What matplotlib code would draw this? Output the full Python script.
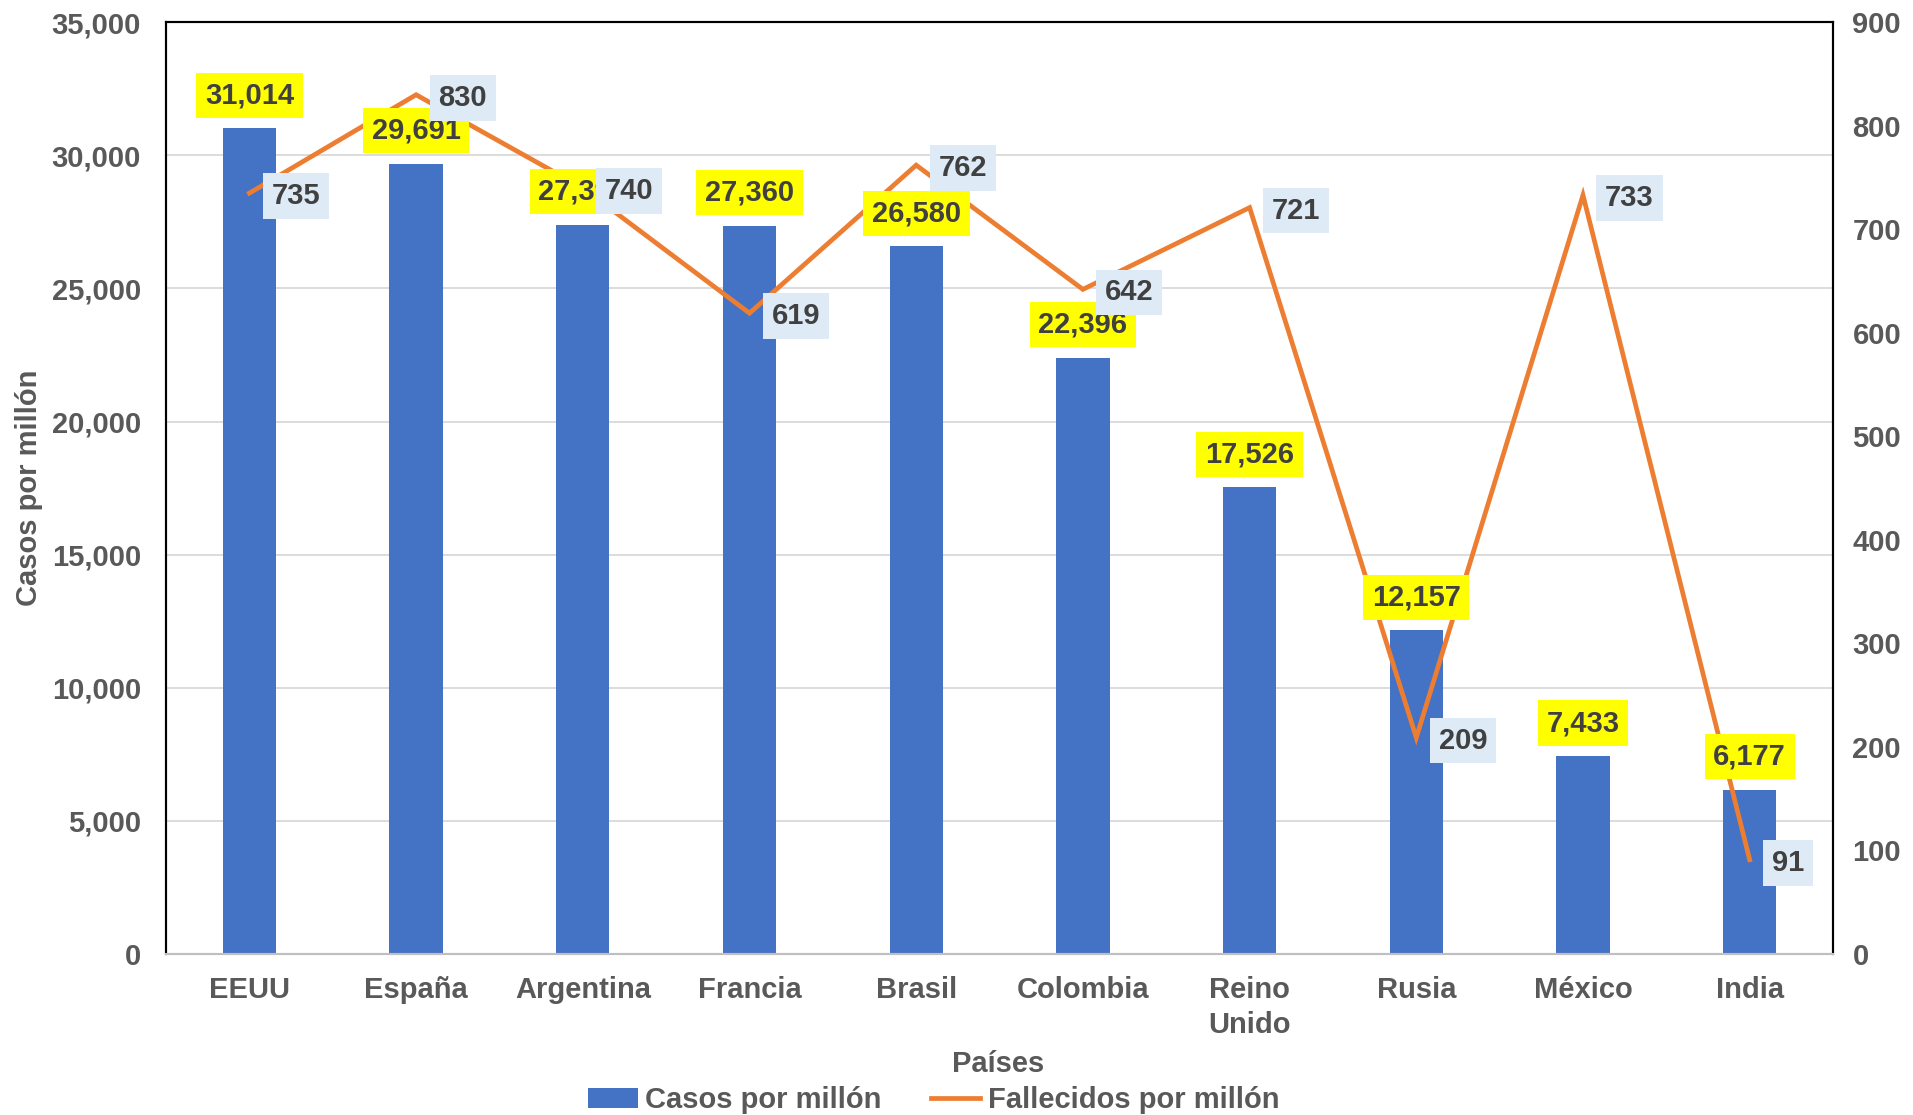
import matplotlib.pyplot as plt
import numpy as np

# Datos
paises = ["EEUU", "España", "Argentina", "Francia", "Brasil", "Colombia",
          "Reino\nUnido", "Rusia", "México", "India"]
casos_por_millon = [31014, 29691, 27393, 27360, 26580, 22396, 17526, 12157, 7433, 6177]
fallecidos_por_millon = [735, 830, 740, 619, 762, 642, 721, 209, 733, 91]

azul = "#4472C4"
naranja = "#ED7D31"
gris_texto = "#595959"
texto_label = "#404040"
fs = 21

plt.rcParams["font.family"] = ["Liberation Sans", "DejaVu Sans"]
plt.rcParams["font.weight"] = "bold"

fig = plt.figure(figsize=(19.13, 11.15), dpi=100)
ax = fig.add_axes([0.0868, 0.1444, 0.8714, 0.8356])
ax2 = ax.twinx()

x = np.arange(len(paises))
ax.bar(x, casos_por_millon, width=0.32, color=azul, zorder=2, label="Casos por millón")
ax2.plot(x, fallecidos_por_millon, color=naranja, lw=3.4, zorder=3,
         solid_joinstyle="miter", label="Fallecidos por millón")

ax.set_xlim(-0.5, len(paises) - 0.5)
ax.set_ylim(0, 35000)
ax2.set_ylim(0, 900)
ax.set_yticks(np.arange(0, 35001, 5000))
ax2.set_yticks(np.arange(0, 901, 100))
ax.yaxis.set_major_formatter(plt.FuncFormatter(lambda v, p: f"{v:,.0f}"))

ax.grid(axis="y", color="#D9D9D9", lw=1.3, zorder=0)
ax.set_axisbelow(True)

ax.set_xticks(x)
ax.set_xticklabels(paises, fontsize=fs, color=gris_texto, fontweight="bold", linespacing=1.3)
ax.tick_params(axis="x", length=0, pad=16)
ax.tick_params(axis="y", length=0, pad=18, labelsize=fs, labelcolor=gris_texto)
ax2.tick_params(axis="y", length=0, pad=14, labelsize=fs, labelcolor=gris_texto)
for t in ax.get_yticklabels() + ax2.get_yticklabels():
    t.set_fontweight("bold")

for a in (ax, ax2):
    a.spines["top"].set_color("black")
    a.spines["left"].set_color("black")
    a.spines["right"].set_color("black")
    a.spines["bottom"].set_color("#BFBFBF")
    for s in a.spines.values():
        s.set_linewidth(1.5)

ax.set_ylabel("Casos por millón", fontsize=fs, color=gris_texto, fontweight="bold", labelpad=6)
fig.text(0.522, 0.046, "Países", ha="center", va="center", fontsize=fs,
         color=gris_texto, fontweight="bold")

# Etiquetas de las barras (amarillas) y de la linea (celestes), encima de la linea
for xi, v in zip(x, casos_por_millon):
    ax2.annotate(f"{v:,}", xy=(xi, v), xycoords=ax.transData, xytext=(0, 26),
                 textcoords="offset points", ha="center", va="center_baseline",
                 fontsize=fs, fontweight="bold", color=texto_label, zorder=5,
                 bbox=dict(boxstyle="square,pad=0.3", fc="#FFFF00", ec="none"))
for xi, v in zip(x, fallecidos_por_millon):
    ax2.annotate(f"{v}", xy=(xi, v), xytext=(16, 0), textcoords="offset points",
                 ha="left", va="center_baseline", fontsize=fs, fontweight="bold",
                 color=texto_label, zorder=6,
                 bbox=dict(boxstyle="square,pad=0.3", fc="#DEEBF7", ec="none"))

h1, l1 = ax.get_legend_handles_labels()
h2, l2 = ax2.get_legend_handles_labels()
leg = fig.legend(h1 + h2, l1 + l2, loc="center", bbox_to_anchor=(0.488, 0.0135),
                 ncol=2, frameon=False, fontsize=fs, handlelength=1.7,
                 handletextpad=0.25, columnspacing=1.7)
for t in leg.get_texts():
    t.set_color(gris_texto)
    t.set_fontweight("bold")

fig.savefig("out.png", dpi=100)
